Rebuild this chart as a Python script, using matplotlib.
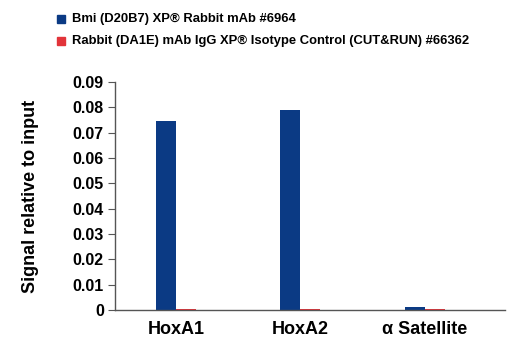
import numpy as np
import matplotlib.pyplot as plt
from matplotlib.patches import Rectangle

plt.rcParams['font.family'] = ['Liberation Sans', 'DejaVu Sans']

categories = ["HoxA1", "HoxA2", "\u03b1 Satellite"]
bmi = [0.0748, 0.0789, 0.0010]
igg = [0.0003, 0.0002, 0.0002]
series_names = ["Bmi (D20B7) XP\u00ae Rabbit mAb #6964",
                "Rabbit (DA1E) mAb IgG XP\u00ae Isotype Control (CUT&RUN) #66362"]
colors = ["#0b3a84", "#e2343a"]
yticks = [0, 0.01, 0.02, 0.03, 0.04, 0.05, 0.06, 0.07, 0.08, 0.09]

fig = plt.figure(figsize=(5.2, 3.5), dpi=100)
ax = fig.add_axes([115 / 520, 1 - 310 / 350, 390 / 520, 228 / 350])

x = np.arange(len(categories))
w = 0.16
ax.bar(x - w / 2, bmi, w, color=colors[0])
ax.bar(x + w / 2, igg, w, color=colors[1])

ax.set_xlim(-0.49, 2.645)
ax.set_ylim(0, 0.09)
ax.set_yticks(yticks)
ax.set_yticklabels(["0"] + [f"{v:.2f}" for v in yticks[1:]], fontsize=11.5, fontweight='bold')
ax.set_xticks(x)
ax.set_xticklabels(categories, fontsize=13, fontweight='bold')
ax.tick_params(axis='x', length=0, pad=8)
ax.tick_params(axis='y', length=5, width=0.8, color='#555555', pad=3)
for s in ['top', 'right']:
    ax.spines[s].set_visible(False)
for s in ['left', 'bottom']:
    ax.spines[s].set_color('#555555')
    ax.spines[s].set_linewidth(1)

ax.set_ylabel("Signal relative to input", fontsize=13, fontweight='bold', labelpad=24)

# legend drawn in figure coordinates
for i, (name, c) in enumerate(zip(series_names, colors)):
    yy = 1 - (19 + 22 * i) / 350
    fig.patches.append(Rectangle((57 / 520, yy - 4 / 350), 8 / 520, 8 / 350,
                                 transform=fig.transFigure, color=c))
    fig.text(72 / 520, yy, name, fontsize=9.4, fontweight='bold', va='center')

fig.savefig("out.png", dpi=100)
